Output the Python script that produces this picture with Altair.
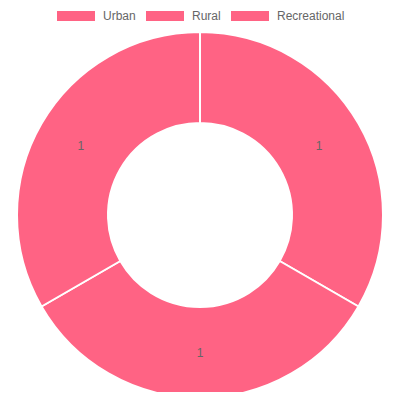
import altair as alt
import pandas as pd

categories = ["Urban", "Rural", "Recreational"]
values = [1, 1, 1]
colors = ["#FF6384", "#FF6384", "#FF6384"]

df = pd.DataFrame({"category": categories, "value": values, "idx": list(range(len(categories)))})

base = alt.Chart(df).encode(
    theta=alt.Theta("value:Q", stack=True),
    order=alt.Order("idx:Q"),
)

arcs = base.mark_arc(
    outerRadius=183, innerRadius=92, stroke="white", strokeWidth=2
).encode(
    x=alt.value(192),
    y=alt.value(207),
    color=alt.Color(
        "category:N",
        sort=categories,
        scale=alt.Scale(domain=categories, range=colors),
        legend=alt.Legend(
            title=None,
            orient="none",
            direction="horizontal",
            legendX=49,
            legendY=-11,
            symbolType="M-1,-0.26L1,-0.26L1,0.26L-1,0.26Z",
            symbolSize=1444,
            symbolStrokeWidth=0,
            symbolOpacity=1,
            labelFont="Liberation Sans",
            labelFontSize=12,
            labelColor="#666666",
            labelOffset=8,
            columnPadding=10,
        ),
    ),
)

labels = base.mark_text(
    radius=137.5, font="Liberation Sans", fontSize=12, color="#666666"
).encode(
    x=alt.value(192),
    y=alt.value(207),
    text=alt.Text("value:Q"),
)

chart = (arcs + labels).properties(
    width=384,
    height=384,
    autosize=alt.AutoSizeParams(type="none"),
    padding=0,
).configure_view(stroke=None)

chart.save("out.html", embed_options={"renderer": "svg", "actions": False})
